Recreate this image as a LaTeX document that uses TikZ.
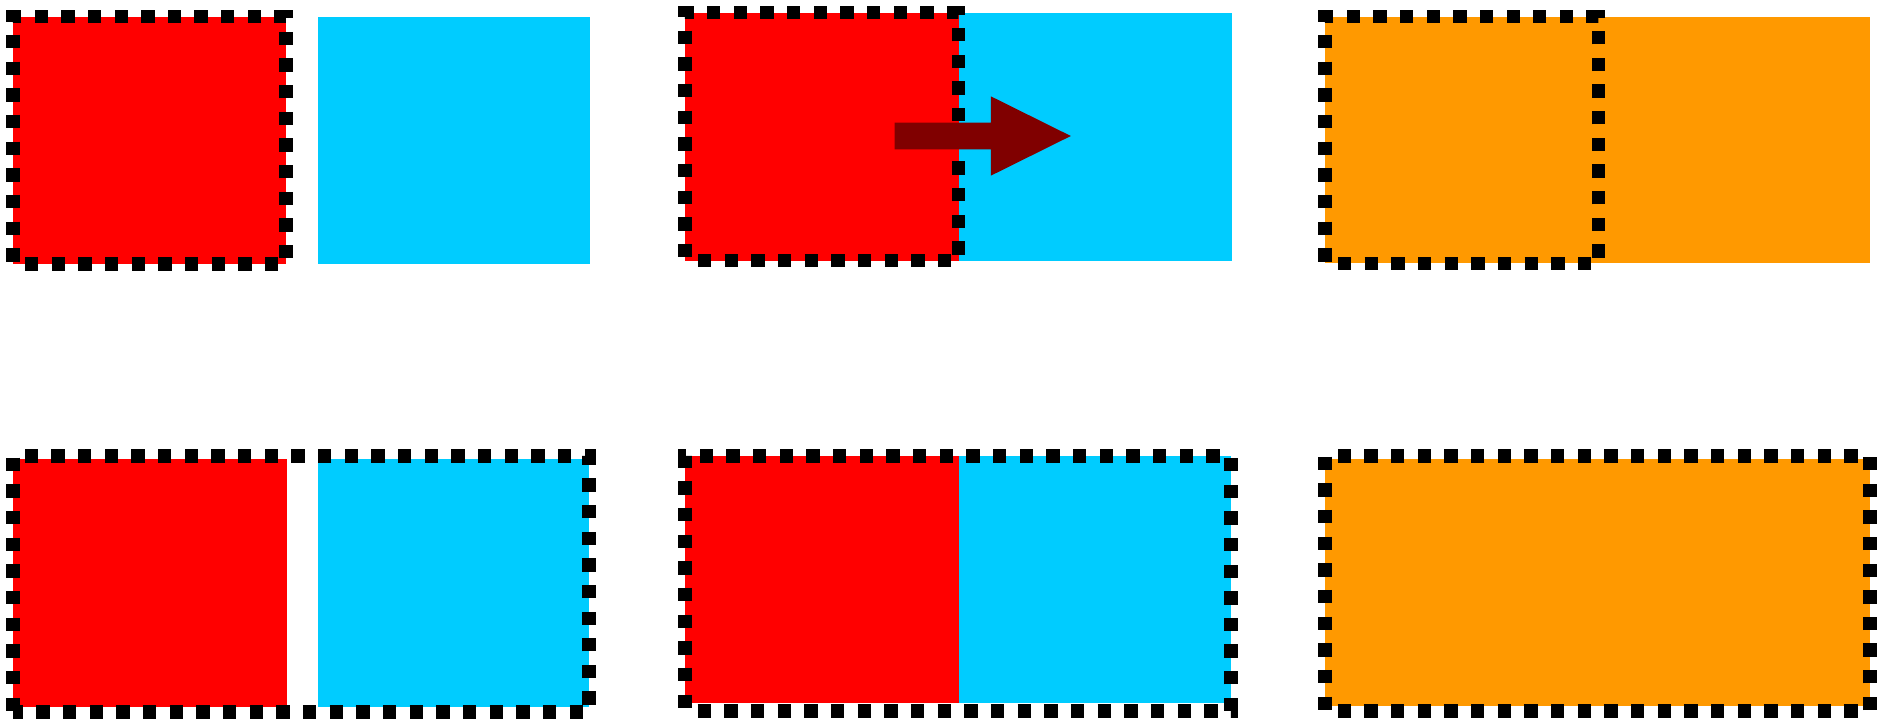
\documentclass[tikz,border=0pt]{standalone}
\usepackage{tikz}
\definecolor{boxred}{HTML}{FF0000}
\definecolor{boxcyan}{HTML}{00CCFF}
\definecolor{boxorange}{HTML}{FF9900}
\definecolor{arrowred}{HTML}{800000}
\tikzset{
  redbox/.style={fill=boxred},
  cyanbox/.style={fill=boxcyan},
  orangebox/.style={fill=boxorange},
  frame/.style={draw=black, line width=13.33pt, dash pattern=on 13.33pt off 13.33pt, line join=miter, line cap=butt},
  bigarrow/.style={fill=arrowred}
}
\begin{document}
\begin{tikzpicture}[x=1pt,y=-1pt]
\useasboundingbox (0,0) rectangle (1883,719);
% ---------- row 1 ----------
% panel 1
\fill[redbox] (13,17.5) rectangle (286,264);
\fill[cyanbox] (317.5,17) rectangle (589.5,264);
\draw[frame, dash phase=14.5pt] (13,264) -- (286,264) -- (286,16.5) -- (13,16.5) -- cycle;
% panel 2
\fill[redbox] (685,12.7) rectangle (958.5,260.7);
\fill[cyanbox] (958.5,12.7) rectangle (1232,260.7);
\draw[frame, dash phase=13.6pt] (685,260.7) -- (958.5,260.7) -- (958.5,12.7) -- (685,12.7) -- cycle;
\coordinate (s1) at (894.6,122.7);
\coordinate (s2) at (990.8,122.7);
\coordinate (h1) at (990.8,96.3);
\coordinate (tip) at (1070.8,136);
\coordinate (h2) at (990.8,175.7);
\coordinate (s3) at (990.8,149.3);
\coordinate (s4) at (894.6,149.3);
\fill[bigarrow] (s1) -- (s2) -- (h1) -- (tip) -- (h2) -- (s3) -- (s4) -- cycle;
% panel 3
\fill[orangebox] (1325,16.7) rectangle (1870,263.5);
\draw[frame, dash phase=13.6pt] (1325,263.7) -- (1598.6,263.7) -- (1598.6,16.5) -- (1325,16.5) -- cycle;
% ---------- row 2 ----------
% panel 4
\fill[redbox] (13,459) rectangle (286.5,706.7);
\fill[cyanbox] (318,459) rectangle (589,706.7);
\draw[frame, dash phase=3.33pt] (13,712) -- (589,712) -- (589,456) -- (13,456) -- cycle;
% panel 5
\fill[redbox] (685,456) rectangle (958.5,702.5);
\fill[cyanbox] (958.5,456) rectangle (1231,702.5);
\draw[frame, dash phase=14pt] (685,711) -- (1231,711) -- (1231,456) -- (685,456) -- cycle;
% panel 6
\fill[orangebox] (1325,459) rectangle (1870,706);
\draw[frame, dash phase=14pt] (1325,711) -- (1870,711) -- (1870,456) -- (1325,456) -- cycle;
\end{tikzpicture}
\end{document}
